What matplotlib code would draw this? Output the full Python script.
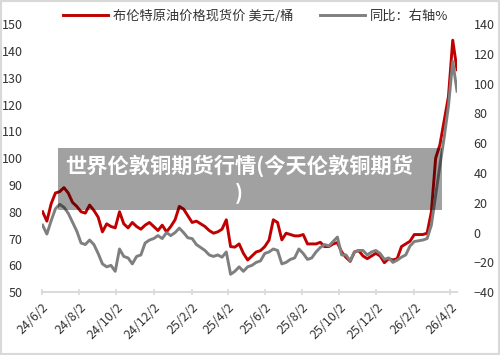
import matplotlib
matplotlib.use('Agg')
import matplotlib.pyplot as plt
import pandas as pd
from matplotlib.patches import Rectangle

plt.rcParams['font.family'] = ['Noto Sans CJK SC', 'DejaVu Sans']

dates = pd.date_range('2024-06-03', periods=98, freq='7D')

brent = [80, 76.5, 83, 87, 87.5, 89, 87, 83.5, 82, 80,
         79.5, 82.5, 80.5, 78, 72.5, 75.5, 74.5, 74, 80, 75.5,
         74, 76, 74.5, 73.5, 75, 76, 74.5, 73, 75, 72.5,
         74.5, 77, 82, 81, 78.5, 76, 76.5, 75.5, 74.5, 73,
         72, 72.5, 73.5, 77, 67, 66.8, 68, 64.5, 62, 63.5,
         65, 65.5, 67, 69.4, 77, 76, 69.5, 72, 71.5, 71,
         71, 71.5, 68, 68, 68, 68.6, 67, 67, 68, 68.5,
         65, 63, 61.5, 65, 65.5, 63.5, 62.5, 63.5, 64.5, 63.5,
         61, 62.5, 62, 62.5, 67, 68, 69, 71.5, 71.5, 71.5,
         72, 80, 100, 105, 114, 123, 144, 133]

yoy = [5, -1, 8, 16, 19, 17, 13, 7, 1, -7,
       -8, -5, -8, -14, -21, -23, -22, -26, -11, -16,
       -17, -21, -16, -15, -7, -5, -4, -2, -4, 0,
       -2, 0, 3, 0, -3.5, -4, -8, -10, -12, -15,
       -16, -15, -16.5, -13, -28, -26, -23, -26, -23, -22,
       -20, -19, -14, -13, -11, -12, -21, -20, -18, -17,
       -11, -14, -18, -17, -13, -10, -8, -9, -6, -3,
       -15, -15, -19, -13, -12, -12, -15, -13, -12, -14,
       -18, -17, -20, -18.5, -16.5, -15, -9, -6, -5.5, -5,
       -4, 5, 25, 45, 64, 85, 115, 95]

tick_dates = ['2024-06-02', '2024-08-02', '2024-10-02', '2024-12-02',
              '2025-02-02', '2025-04-02', '2025-06-02', '2025-08-02',
              '2025-10-02', '2025-12-02', '2026-02-02', '2026-04-02']
tick_labels = ['24/6/2', '24/8/2', '24/10/2', '24/12/2', '25/2/2', '25/4/2',
               '25/6/2', '25/8/2', '25/10/2', '25/12/2', '26/2/2', '26/4/2']

label_red = '布伦特原油价格现货价 美元/桶'
label_gray = '同比：右轴%'
overlay_text = '世界伦敦铜期货行情(今天伦敦铜期货\n)'

txt_color = '#333333'

fig = plt.figure(figsize=(5, 3.55), dpi=100)
ax = fig.add_axes([0.084, 0.177, 0.83, 0.755])
ax2 = ax.twinx()

l1, = ax.plot(dates, brent, color='#c00000', lw=2.1, label=label_red)
l2, = ax2.plot(dates, yoy, color='#7f7f7f', lw=2.1, label=label_gray)

ax.set_xlim(pd.Timestamp('2024-06-02'), pd.Timestamp('2026-04-13'))
ax.set_ylim(50, 150)
ax2.set_ylim(-40, 140)
ax.set_yticks(range(50, 151, 10))
ax2.set_yticks(range(-40, 141, 20))
ax.set_xticks(pd.to_datetime(tick_dates))
ax.set_xticklabels(tick_labels, rotation=45, ha='right', va='top',
                   rotation_mode='anchor')

for a in (ax, ax2):
    for s in ('top', 'left', 'right'):
        a.spines[s].set_visible(False)
    a.spines['bottom'].set_color('#d9d9d9')
    a.spines['bottom'].set_linewidth(1.2)

ax.tick_params(axis='y', length=0, pad=14, labelsize=9, labelcolor=txt_color)
ax2.tick_params(axis='y', length=0, pad=12, labelsize=9, labelcolor=txt_color)
ax.tick_params(axis='x', direction='inout', length=4, color='#d9d9d9',
               width=1.2, labelsize=9, labelcolor=txt_color, pad=4)
for lab in ax.get_xticklabels():
    lab.set_x(lab.get_position()[0])

fig.legend(handles=[l1, l2], loc='center', bbox_to_anchor=(0.511, 0.955),
           ncol=2, frameon=False, fontsize=9.5, handlelength=3.4,
           columnspacing=2.0, handletextpad=0.4, labelcolor=txt_color)

fig.add_artist(Rectangle((0.116, 0.408), 0.768, 0.175, transform=fig.transFigure,
                         facecolor='black', alpha=0.37, edgecolor='none', zorder=5))
fig.text(0.478, 0.496, overlay_text, color='white', fontsize=15.3,
         fontweight='bold', ha='center', va='center', multialignment='center',
         linespacing=1.3, zorder=6)

fig.add_artist(Rectangle((0, 0), 1, 1, transform=fig.transFigure, fill=False,
                         edgecolor='#d9d9d9', lw=3, zorder=10))

fig.savefig('out.png', dpi=100)
